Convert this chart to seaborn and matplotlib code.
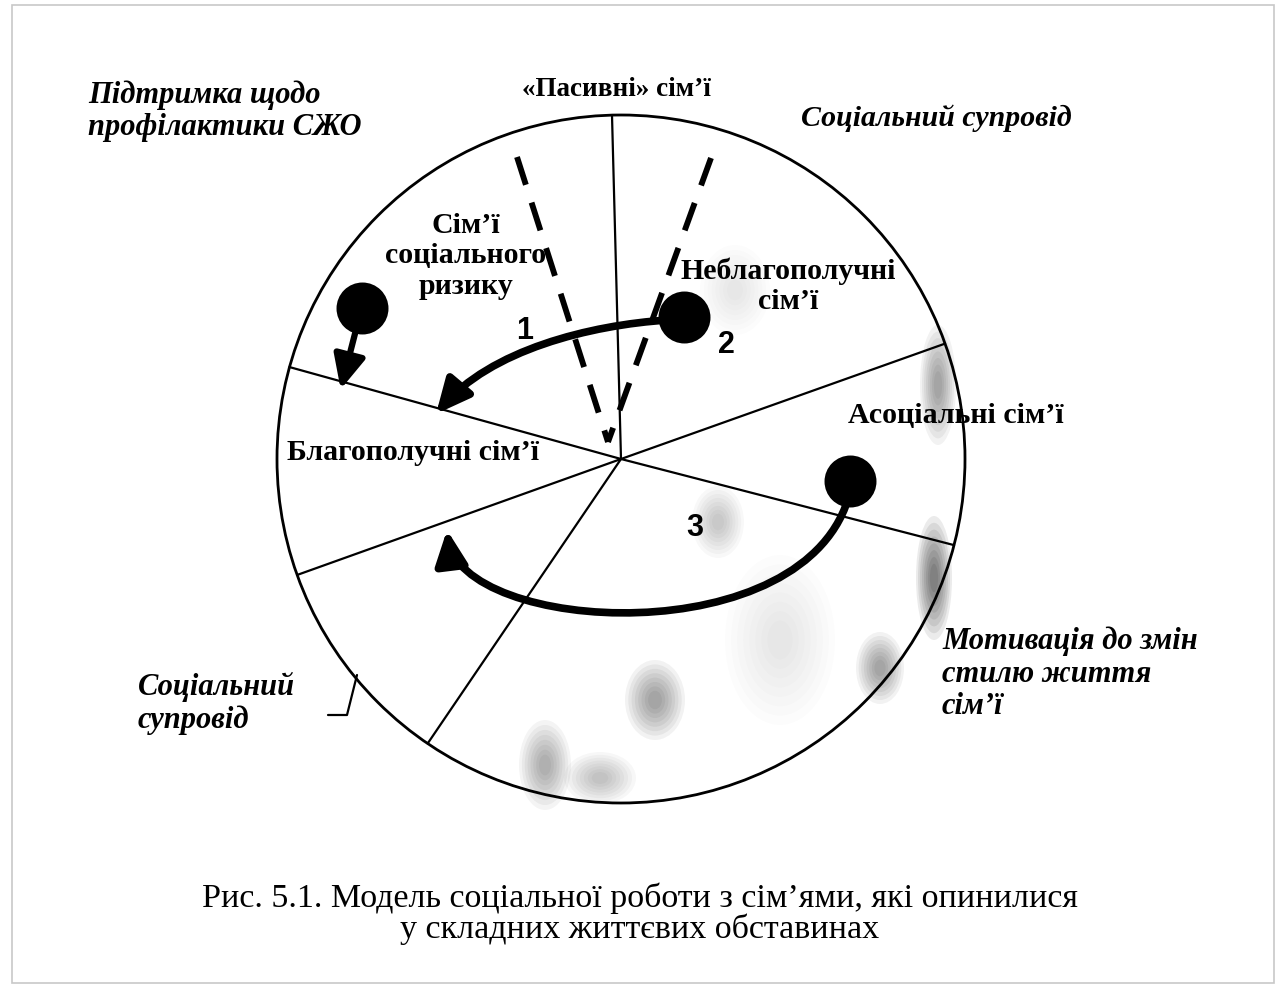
import numpy as np
import pandas as pd
import matplotlib
matplotlib.use("Agg")
import matplotlib.pyplot as plt
import seaborn as sns
from matplotlib.patches import Circle, FancyArrowPatch, Rectangle, Ellipse
from matplotlib.path import Path

# --- diagram data (pixel space of the 1283x991 page, y grows downwards) ---
center = (621, 459)
radius = 344

# directions of the six sector borders, degrees (counter-clockwise, 0 = east)
spoke_angles = [91.5, 164.5, 199.7, 235.8, -14.5, 19.6]

# sector names and where they sit
sector_labels = ["Сім’ї\nсоціального\nризику", "Неблагополучні\nсім’ї",
                 "Асоціальні сім’ї", "Благополучні сім’ї"]
sector_x = [466, 788, 956, 413]
sector_y = [256, 286, 415, 452]

# outer (work type) labels
outer_labels = ["«Пасивні» сім’ї", "Підтримка щодо\nпрофілактики СЖО",
                "Соціальний супровід", "Мотивація до змін\nстилю життя\nсім’ї",
                "Соціальний\nсупровід"]
outer_x = [616, 88, 936, 942, 138]
outer_y = [90, 111, 118, 674, 703]
outer_ha = ["center", "left", "center", "left", "left"]
outer_italic = [False, True, True, True, True]
outer_size = [19.5, 22, 21.5, 22, 22]

# family positions (dots) and path numbers
dot_x = [362, 684, 850]
dot_y = [308, 317, 481]
num_labels = ["1", "2", "3"]
num_x = [525, 726, 695]
num_y = [331, 345, 528]

# dashed "passive" wedge: two rays meeting near the centre
dash_top_x = [517, 711]
dash_top_y = [157, 158]
dash_tip = (608, 442)

caption = ("Рис. 5.1. Модель соціальної роботи з сім’ями, які опинилися\n"
           "у складних життєвих обставинах")

sns.set_theme(style="white")
plt.rcParams['font.family'] = ['Liberation Serif', 'DejaVu Serif']
plt.rcParams['text.color'] = 'black'

fig = plt.figure(figsize=(12.83, 9.91), dpi=100)
ax = fig.add_axes([0, 0, 1, 1])

# page frame
ax.add_patch(Rectangle((12, 5), 1262, 978, fill=False, ec='#c8c8c8', lw=1.2))

# scanner smudges
smudges = [(938, 385, 18, 60, 0.45), (934, 578, 18, 62, 0.7), (655, 700, 30, 40, 0.45),
           (718, 522, 26, 36, 0.25), (545, 765, 26, 45, 0.4), (600, 778, 36, 26, 0.3),
           (880, 668, 24, 36, 0.45), (780, 640, 55, 85, 0.12), (735, 290, 35, 45, 0.1)]
for sx, sy, sw, sh, a in smudges:
    for k in range(8):
        f = 1 - 0.11 * k
        ax.add_patch(Ellipse((sx, sy), sw * f * 2, sh * f * 2,
                             color='black', alpha=a * 0.11, lw=0))

# main circle
ax.add_patch(Circle(center, radius, fill=False, ec='black', lw=2.0))

# sector borders
for ang in spoke_angles:
    t = np.deg2rad(ang)
    ax.plot([center[0], center[0] + radius * np.cos(t)],
            [center[1], center[1] - radius * np.sin(t)], color='black', lw=1.6)

# dashed wedge
for tx, ty in zip(dash_top_x, dash_top_y):
    ax.plot([tx, dash_tip[0]], [ty, dash_tip[1]], color='black', lw=4.2,
            linestyle=(0, (5, 3.2)), solid_capstyle='butt')

# curved arrows (paths 1 and 3) and the short arrow
arrow_kw = dict(arrowstyle='-|>,head_length=1.7,head_width=0.8', color='black',
                mutation_scale=12, lw=5.5)
path1 = Path([(668, 320), (590, 325), (490, 350), (436, 414)],
             [Path.MOVETO, Path.CURVE4, Path.CURVE4, Path.CURVE4])
path3 = Path([(850, 492), (810, 655), (460, 635), (447, 530)],
             [Path.MOVETO, Path.CURVE4, Path.CURVE4, Path.CURVE4])
ax.add_patch(FancyArrowPatch(path=path1, **arrow_kw))
ax.add_patch(FancyArrowPatch(path=path3, **arrow_kw))
ax.add_patch(FancyArrowPatch((358, 322), (340, 392), **dict(arrow_kw, lw=4.5)))

# family dots
dots = pd.DataFrame({'x': dot_x, 'y': dot_y})
sns.scatterplot(data=dots, x='x', y='y', s=1200, color='black', edgecolor='black',
                ax=ax, legend=False, zorder=5)
ax.set_xlim(0, 1283)
ax.set_ylim(991, 0)
ax.set_aspect('equal')
ax.axis('off')

for lab, x, y in zip(num_labels, num_x, num_y):
    ax.text(x, y, lab, family='Liberation Sans', fontweight='bold', fontsize=22,
            ha='center', va='center')

for lab, x, y in zip(sector_labels, sector_x, sector_y):
    ax.text(x, y, lab, fontweight='bold', fontsize=21.5, ha='center', va='center',
            linespacing=1.15)

for lab, x, y, ha, it, fs in zip(outer_labels, outer_x, outer_y, outer_ha,
                                 outer_italic, outer_size):
    ax.text(x, y, lab, fontweight='bold', fontsize=fs, ha=ha, va='center',
            style='italic' if it else 'normal', linespacing=1.15)

# leader line for the lower-left label
ax.plot([357, 347, 328], [675, 715, 715], color='black', lw=1.6)

ax.text(640, 914, caption, fontsize=24.5, ha='center', va='center', linespacing=0.98)

fig.savefig('out.png', dpi=100)
